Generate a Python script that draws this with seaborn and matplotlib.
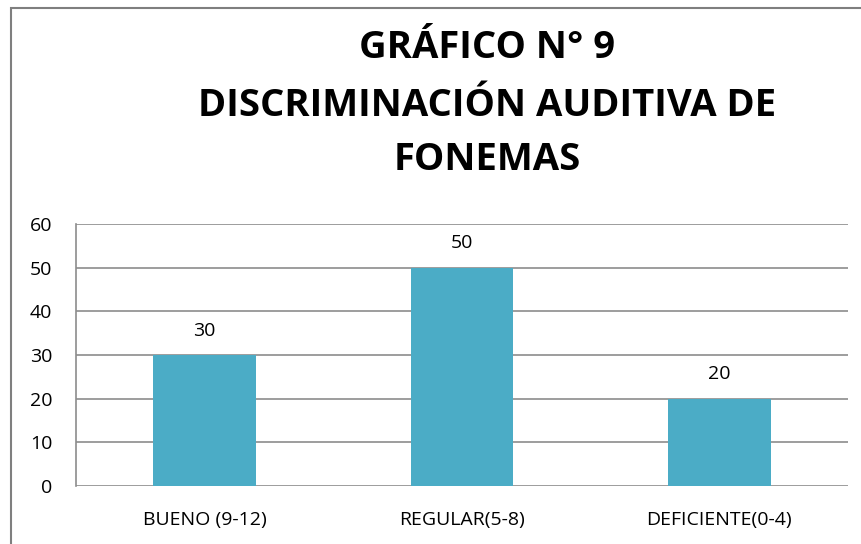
import matplotlib
matplotlib.use("Agg")
import matplotlib.pyplot as plt
import seaborn as sns
import pandas as pd
from matplotlib.patches import Rectangle

categories = ["BUENO (9-12)", "REGULAR(5-8)", "DEFICIENTE(0-4)"]
values = [30, 50, 20]
title_lines = ["GRÁFICO N° 9", "DISCRIMINACIÓN AUDITIVA DE", "FONEMAS"]
yticks = [0, 10, 20, 30, 40, 50, 60]

df = pd.DataFrame({"categoria": categories, "valor": values})

sns.set_style("white")
plt.rcParams["font.family"] = ["Open Sans", "DejaVu Sans"]
plt.rcParams["text.color"] = "black"

fig = plt.figure(figsize=(8.61, 5.44), dpi=100)
ax = fig.add_axes([76 / 861, 1 - 486 / 544, 772 / 861, 262 / 544])

sns.barplot(data=df, x="categoria", y="valor", color="#4BACC6", width=0.4,
            saturation=1, linewidth=0, edgecolor="none", ax=ax, zorder=3)

ax.set_ylim(0, 60)
ax.set_yticks(yticks)
ax.yaxis.grid(True, color="#8c8c8c", linewidth=1.2, zorder=0)
ax.set_axisbelow(True)
for s in ["top", "right", "bottom"]:
    ax.spines[s].set_visible(False)
ax.spines["left"].set_color("#8c8c8c")
ax.spines["left"].set_linewidth(1.2)
ax.tick_params(axis="both", length=0, labelsize=14, colors="black")
ax.tick_params(axis="x", pad=18)
ax.tick_params(axis="y", pad=17)
ax.set_xlabel("")
ax.set_ylabel("")

for c in ax.containers:
    ax.bar_label(c, labels=[str(v) for v in values], padding=11, fontsize=14,
                 color="black")

for i, y in enumerate([48, 106, 160]):
    fig.text(0.566, 1 - y / 544, title_lines[i], ha="center", va="center",
             fontsize=27.5, fontweight="bold", color="black")

# chart frame, running off the right and bottom edges
fig.patches.append(Rectangle((11 / 861, -0.05), 1.2, 1 - 8 / 544 + 0.05,
                             transform=fig.transFigure, fill=False,
                             edgecolor="#7f7f7f", linewidth=1.5))

fig.savefig("out.png", dpi=100)
